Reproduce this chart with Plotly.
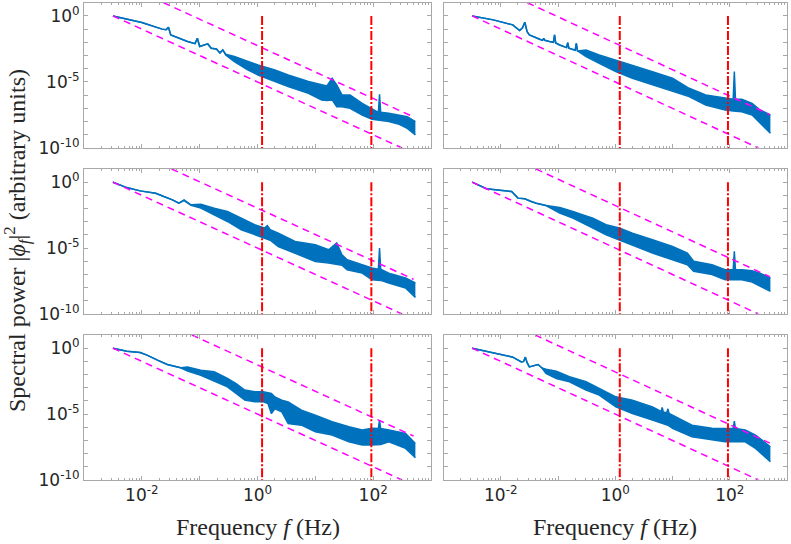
import numpy as np
import plotly.graph_objects as go

# ---------------- data (log10 values) ----------------
# Panel 1 (top-left)
p1_logf = [-2.5, -2.0, -1.65, -1.58, -1.54, -1.5, -1.21, -1.08, -1.04, -1.0, -0.86, -0.8, -0.71, -0.65,
           -0.6, -0.55, -0.4, -0.17, 0.01, 0.30, 0.53, 0.88, 1.11, 1.2, 1.29, 1.37, 1.46, 1.6, 1.81, 1.98,
           2.09, 2.11, 2.13, 2.27, 2.45, 2.59, 2.73]
p1_hi = [0, -0.5, -1.0, -1.05, -0.86, -1.44, -1.94, -2.1, -1.69, -2.32, -2.12, -2.45, -2.5, -2.8,
         -2.58, -2.9, -3.08, -3.46, -3.71, -4.09, -4.47, -4.97, -5.23, -5.3, -4.72, -5.23, -5.98, -5.98, -6.62, -7.0,
         -7.3, -5.93, -7.3, -7.37, -7.5, -7.63, -8.0]
p1_lo = [0, -0.5, -1.0, -1.05, -0.86, -1.44, -1.94, -2.1, -1.69, -2.32, -2.12, -2.45, -2.5, -2.8,
         -2.58, -2.95, -3.46, -4.09, -4.47, -4.97, -5.35, -5.86, -6.36, -6.4, -6.36, -6.87, -6.87, -7.0, -7.5, -7.83,
         -7.9, -7.9, -7.92, -8.0, -8.2, -8.51, -9.0]

# Panel 2 (top-right)
p2_logf = [-2.5, -2.13, -1.79, -1.67, -1.62, -1.58, -1.54, -1.5, -1.32, -1.27, -1.25, -1.23, -1.15, -1.08,
           -1.06, -1.04, -0.97, -0.85, -0.83, -0.81, -0.70, -0.68, -0.66, -0.51, -0.28, 0.01, 0.30, 0.65, 1.0,
           1.29, 1.58, 1.92, 2.06, 2.08, 2.10, 2.21, 2.39, 2.53, 2.71]
p2_hi = [0, -0.3, -0.68, -1.11, -0.9, -0.48, -1.2, -1.44, -1.77, -1.85, -1.7, -1.85, -1.94, -2.0,
         -1.44, -2.05, -2.2, -2.4, -2.02, -2.45, -2.6, -2.07, -2.65, -2.58, -2.95, -3.33, -3.71, -4.22, -4.72,
         -5.48, -5.98, -6.24, -6.3, -4.22, -6.3, -6.31, -6.62, -7.12, -7.5]
p2_lo = [0, -0.3, -0.68, -1.11, -0.9, -0.48, -1.2, -1.44, -1.77, -1.85, -1.7, -1.85, -1.94, -2.0,
         -1.44, -2.05, -2.2, -2.4, -2.02, -2.45, -2.6, -2.07, -2.65, -3.08, -3.59, -4.22, -4.72, -5.23, -5.73,
         -6.11, -6.74, -7.12, -7.2, -7.2, -7.2, -7.25, -7.5, -8.13, -8.89]

# Panel 3 (middle-left)
p3_logf = [-2.5, -2.26, -2.03, -1.76, -1.62, -1.47, -1.36, -1.27, -1.15, -0.98, -0.75, -0.52, -0.28, -0.05,
           0.12, 0.17, 0.22, 0.36, 0.65, 1.0, 1.23, 1.37, 1.46, 1.55, 1.81, 1.98, 2.09, 2.11, 2.13, 2.27, 2.56, 2.73]
p3_hi = [0, -0.41, -0.66, -0.84, -1.09, -1.34, -1.59, -1.34, -1.72, -1.67, -1.97, -2.23, -2.73, -3.23,
         -3.48, -3.3, -3.6, -3.87, -4.5, -4.75, -5.13, -4.62, -5.51, -5.89, -6.26, -6.51, -6.6, -5.0, -6.6, -6.9,
         -7.27, -7.65]
p3_lo = [0, -0.41, -0.66, -0.84, -1.09, -1.34, -1.59, -1.40, -1.75, -1.97, -2.48, -2.98, -3.61, -3.99,
         -4.24, -4.3, -4.4, -4.88, -5.38, -6.01, -6.14, -6.26, -6.3, -6.64, -6.9, -7.4, -7.45, -7.45, -7.45, -7.65,
         -8.03, -8.74]

# Panel 4 (middle-right)
p4_logf = [-2.5, -2.25, -2.02, -1.81, -1.70, -1.58, -1.48, -1.38, -1.21, -0.97, -0.74, -0.62, -0.55, -0.39,
           -0.16, 0.07, 0.30, 0.65, 1.0, 1.26, 1.37, 1.69, 1.92, 2.06, 2.08, 2.10, 2.21, 2.39, 2.53, 2.71]
p4_hi = [0, -0.5, -0.61, -0.71, -1.21, -1.26, -1.45, -1.6, -1.77, -1.92, -2.22, -2.43, -2.5, -2.73,
         -3.23, -3.48, -3.87, -4.37, -4.87, -5.38, -6.0, -6.26, -6.64, -6.65, -5.25, -6.65, -6.64, -6.72, -6.9, -7.27]
p4_lo = [0, -0.5, -0.61, -0.71, -1.21, -1.26, -1.45, -1.6, -1.77, -2.35, -2.73, -2.98, -3.1, -3.49,
         -3.99, -4.37, -4.75, -5.38, -5.89, -6.26, -6.77, -7.0, -7.4, -7.4, -7.4, -7.4, -7.4, -7.58, -7.9, -8.28]

# Panel 5 (bottom-left)
p5_logf = [-2.5, -2.26, -2.03, -1.91, -1.73, -1.56, -1.33, -1.21, -0.98, -0.75, -0.52, -0.37, -0.22, -0.05,
           0.1, 0.18, 0.24, 0.3, 0.42, 0.53, 0.76, 1.0, 1.29, 1.58, 1.81, 1.98, 2.09, 2.11, 2.13, 2.27, 2.56, 2.73]
p5_hi = [0, -0.23, -0.33, -0.53, -0.91, -1.24, -1.49, -1.42, -1.67, -1.79, -2.3, -2.68, -3.18, -3.31,
         -3.3, -3.4, -3.44, -3.7, -3.94, -4.07, -4.7, -5.08, -5.58, -5.96, -6.21, -6.08, -6.1, -5.46, -6.1, -6.21,
         -6.47, -7.23]
p5_lo = [0, -0.23, -0.33, -0.53, -0.91, -1.24, -1.49, -1.74, -2.05, -2.5, -2.93, -3.44, -3.94, -4.07,
         -4.07, -4.2, -4.95, -4.6, -4.83, -5.71, -5.84, -6.34, -6.59, -7.1, -7.35, -7.35, -7.3, -7.3, -7.3, -7.1,
         -7.6, -8.31]

# Panel 6 (bottom-right)
p6_logf = [-2.5, -2.13, -1.79, -1.64, -1.60, -1.57, -1.54, -1.5, -1.42, -1.35, -1.28, -1.21, -1.03, -0.8,
           -0.51, -0.28, 0.01, 0.30, 0.65, 0.80, 0.82, 0.84, 0.90, 0.92, 0.94, 1.0, 1.34, 1.69, 1.92, 2.06, 2.08,
           2.10, 2.27, 2.45, 2.71]
p6_hi = [0, -0.35, -0.68, -1.04, -1.0, -0.68, -1.1, -1.42, -1.3, -1.24, -1.5, -1.6, -1.74, -2.17,
         -2.55, -3.06, -3.69, -3.94, -4.45, -4.8, -4.5, -4.85, -4.9, -4.6, -4.95, -5.08, -5.84, -6.08, -6.08, -6.1,
         -5.53, -6.1, -6.21, -6.59, -7.48]
p6_lo = [0, -0.35, -0.68, -1.04, -1.0, -0.68, -1.1, -1.42, -1.3, -1.24, -1.5, -1.92, -2.3, -2.55,
         -3.18, -3.56, -4.45, -4.95, -5.46, -5.65, -5.68, -5.7, -5.8, -5.85, -5.9, -6.08, -6.72, -6.97, -7.1, -7.1,
         -7.1, -7.1, -7.1, -7.6, -8.61]

# f^-2 guide lines: log10 of prefactor (value at 1 Hz)
upper_guide_c = [-2.25, -2.07, -1.97, -1.77, -1.27, -1.80]
lower_guide_c = [-5.0, -5.0, -5.0, -5.0, -5.0, -5.0]
guide_start_hz = 10 ** -2.5
guide_end_hz = 10 ** 2.7

# vertical markers (Hz)
marker_freqs = [1.2, 93.0]

x_tick_labels = {-2: "10<sup>-2</sup>", 0: "10<sup>0</sup>", 2: "10<sup>2</sup>"}
y_tick_labels = {0: "10<sup>0</sup>", -5: "10<sup>-5</sup>", -10: "10<sup>-10</sup>"}

panels = [(p1_logf, p1_hi, p1_lo), (p2_logf, p2_hi, p2_lo), (p3_logf, p3_hi, p3_lo),
          (p4_logf, p4_hi, p4_lo), (p5_logf, p5_hi, p5_lo), (p6_logf, p6_hi, p6_lo)]

# ---------------- style ----------------
BLUE = "#0072BD"
MAGENTA = "#FF00FF"
RED = "#FF0000"
GRAY = "#A8A8A8"
W, H = 791, 544
xdom = [[84 / W, 431 / W], [443.5 / W, 787 / W]]
ydom = [[1 - 148 / H, 1 - 2.7 / H], [1 - 314 / H, 1 - 169 / H], [1 - 480 / H, 1 - 335 / H]]

fig = go.Figure()
layout = {}
for i, (lf, hi, lo) in enumerate(panels):
    row, col = divmod(i, 2)
    sfx = "" if i == 0 else str(i + 1)
    xa, ya = "x" + sfx, "y" + sfx
    f = 10 ** np.array(lf)
    fig.add_trace(go.Scatter(x=f, y=10 ** np.array(lo), mode="lines", line=dict(color=BLUE, width=1.5),
                             xaxis=xa, yaxis=ya, hoverinfo="skip", showlegend=False))
    fig.add_trace(go.Scatter(x=f, y=10 ** np.array(hi), mode="lines", line=dict(color=BLUE, width=1.5),
                             fill="tonexty", fillcolor=BLUE,
                             xaxis=xa, yaxis=ya, hoverinfo="skip", showlegend=False))
    # guide lines ~ f^-2
    cu, cl = upper_guide_c[i], lower_guide_c[i]
    fu0 = 10 ** ((cu - 1) / 2)
    fu = np.array([fu0, guide_end_hz])
    fig.add_trace(go.Scatter(x=fu, y=10 ** cu * fu ** -2.0, mode="lines",
                             line=dict(color=MAGENTA, width=1.5, dash="7px,5px"),
                             xaxis=xa, yaxis=ya, hoverinfo="skip", showlegend=False))
    fl1 = 10 ** ((cl + 10) / 2)
    fl = np.array([guide_start_hz, fl1])
    fig.add_trace(go.Scatter(x=fl, y=10 ** cl * fl ** -2.0, mode="lines",
                             line=dict(color=MAGENTA, width=1.5, dash="7px,5px"),
                             xaxis=xa, yaxis=ya, hoverinfo="skip", showlegend=False))
    for mf in marker_freqs:
        fig.add_trace(go.Scatter(x=[mf, mf], y=[1.0, 1e-10], mode="lines",
                                 line=dict(color=RED, width=2, dash="9px,2px,2px,2px"),
                                 xaxis=xa, yaxis=ya, hoverinfo="skip", showlegend=False))

    xt = [10.0 ** k for k in range(-3, 4)]
    xtt = [x_tick_labels.get(k, "") if row == 2 else "" for k in range(-3, 4)]
    minor_x = [m * 10.0 ** k for k in range(-3, 3) for m in range(2, 10)]
    yt = [10.0 ** k for k in range(-10, 2)]
    ytt = [y_tick_labels.get(k, "") if col == 0 else "" for k in range(-10, 2)]
    common = dict(type="log", showgrid=False, zeroline=False, showline=True, linecolor=GRAY, linewidth=1,
                  mirror="allticks", ticks="inside", tickcolor=GRAY, ticklen=4, tickwidth=1, automargin=False,
                  tickfont=dict(family="DejaVu Sans", size=17, color="#262626"))
    layout["xaxis" + sfx] = dict(common, range=[-3, 3], domain=xdom[col], anchor=ya,
                                 tickmode="array", tickvals=xt, ticktext=xtt,
                                 minor=dict(tickvals=minor_x, ticks="inside", ticklen=2, tickcolor=GRAY))
    layout["yaxis" + sfx] = dict(common, range=[-10, 1], domain=ydom[row], anchor=xa,
                                 tickmode="array", tickvals=yt, ticktext=ytt)

label_font = dict(family="Liberation Serif", size=24, color="#262626")
fig.update_layout(**layout)
fig.update_layout(
    width=W, height=H, margin=dict(l=0, r=0, t=0, b=0, autoexpand=False),
    paper_bgcolor="white", plot_bgcolor="white", showlegend=False,
    annotations=[
        dict(text="Spectral power |<i>ϕ<sub>f</sub></i>|<sup>2</sup> (arbitrary units)", x=17 / W, y=1 - 241 / H,
             xref="paper", yref="paper", xanchor="center", yanchor="middle", textangle=-90, showarrow=False,
             font=dict(label_font, size=24)),
        dict(text="Frequency <i>f</i> (Hz)", x=257.5 / W, y=1 - 527 / H, xref="paper", yref="paper",
             xanchor="center", yanchor="middle", showarrow=False, font=label_font),
        dict(text="Frequency <i>f</i> (Hz)", x=615 / W, y=1 - 527 / H, xref="paper", yref="paper",
             xanchor="center", yanchor="middle", showarrow=False, font=label_font),
    ],
)
fig.write_html("out.html", config={"displayModeBar": False},
               post_script="document.body.style.margin='0';document.body.style.padding='0';")
